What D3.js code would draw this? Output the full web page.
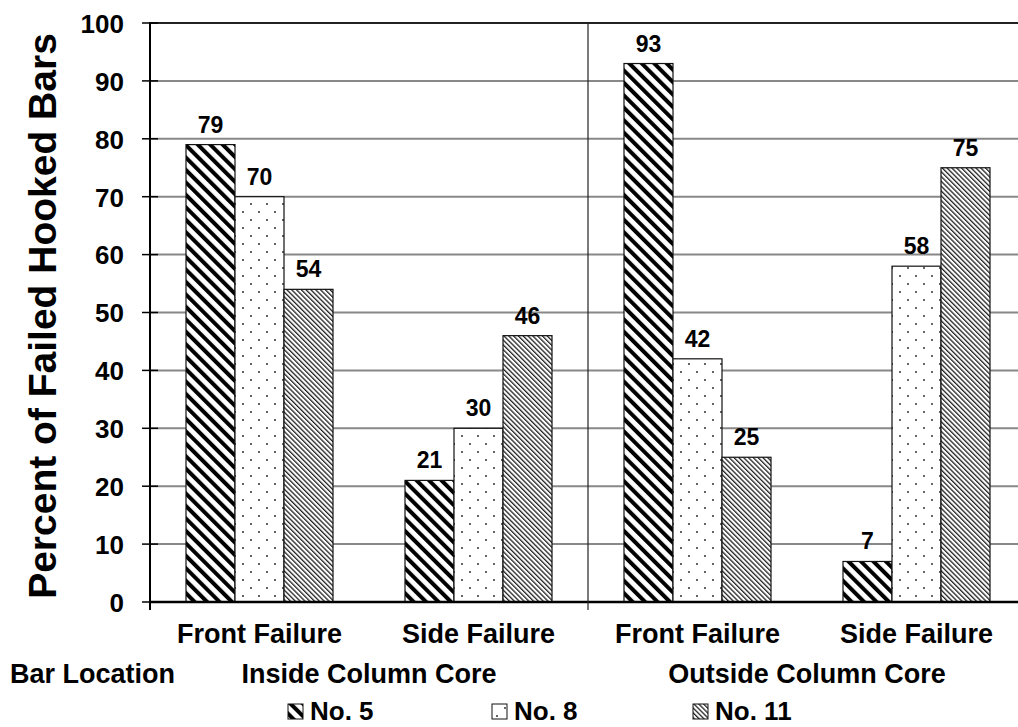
<!DOCTYPE html>
<html><head><meta charset="utf-8">
<script src="https://cdn.jsdelivr.net/npm/d3@7"></script>
<style>
html,body{margin:0;padding:0;background:#fff;}
svg{display:block;font-family:Arial,"Liberation Sans",sans-serif;font-weight:bold;}
</style></head>
<body><svg id="c" width="1018" height="727"></svg>
<script>
const categories = ["Front Failure", "Side Failure", "Front Failure ", "Side Failure "];
const groups = ["Inside Column Core", "Outside Column Core"];
const seriesNames = ["No. 5", "No. 8", "No. 11"];
const no5 = [79, 21, 93, 7];
const no8 = [70, 30, 42, 58];
const no11 = [54, 46, 25, 75];
const yTicks = [0, 10, 20, 30, 40, 50, 60, 70, 80, 90, 100];
const axisTitle = "Percent of Failed Hooked Bars";
const xTitle = "Bar Location";

const series = [no5, no8, no11];
const svg = d3.select("#c");
const L = 150, R = 1026, T = 23, B = 602;

const defs = svg.append("defs");
const p5 = defs.append("pattern").attr("id","p5").attr("patternUnits","userSpaceOnUse")
  .attr("width",8.8).attr("height",8.8).attr("patternTransform","rotate(-45)");
p5.append("rect").attr("width",8.8).attr("height",8.8).attr("fill","#fff");
p5.append("rect").attr("width",4).attr("height",8.8).attr("fill","#000");
const p8 = defs.append("pattern").attr("id","p8").attr("patternUnits","userSpaceOnUse")
  .attr("width",16).attr("height",16).attr("x",L+36);
p8.append("rect").attr("width",16).attr("height",16).attr("fill","#fff");
p8.append("circle").attr("cx",3).attr("cy",4).attr("r",1).attr("fill","#333");
p8.append("circle").attr("cx",11).attr("cy",12).attr("r",1).attr("fill","#333");
const p11 = defs.append("pattern").attr("id","p11").attr("patternUnits","userSpaceOnUse")
  .attr("width",3.4).attr("height",3.4).attr("patternTransform","rotate(-45)");
p11.append("rect").attr("width",3.4).attr("height",3.4).attr("fill","#fff");
p11.append("rect").attr("width",1.3).attr("height",3.4).attr("fill","#222");
const fills = ["url(#p5)","url(#p8)","url(#p11)"];

const y = d3.scaleLinear().domain([0,100]).range([B,T]);
const x0 = d3.scaleBand().domain(categories).range([L,R]).padding(0);
const x1 = d3.scaleBand().domain(seriesNames).range([36,183]).padding(0);

// gridlines
svg.append("g").selectAll("line").data(yTicks.filter(d=>d>0 && d<100)).join("line")
  .attr("x1",L).attr("x2",1018).attr("y1",d=>y(d)).attr("y2",d=>y(d))
  .attr("stroke","#888").attr("stroke-width",2);
svg.append("line").attr("x1",L).attr("x2",1018).attr("y1",y(100)).attr("y2",y(100))
  .attr("stroke","#222").attr("stroke-width",2);

// bars
const cg = svg.append("g").selectAll("g").data(categories).join("g")
  .attr("transform",d=>`translate(${x0(d)},0)`);
cg.each(function(c,ci){
  const g = d3.select(this);
  seriesNames.forEach((s,si)=>{
    const v = series[si][ci];
    g.append("rect").attr("x",x1(s)).attr("width",x1.bandwidth())
      .attr("y",y(v)).attr("height",B-y(v))
      .attr("fill",fills[si]).attr("stroke","#111").attr("stroke-width",1.2);
    g.append("text").attr("x",x1(s)+x1.bandwidth()/2).attr("y",y(v)-12)
      .attr("text-anchor","middle").attr("font-size",23).text(v);
  });
});

// axes
const yAxis = d3.axisLeft(y).tickValues(yTicks).tickSize(0).tickPadding(0);
const ya = svg.append("g").attr("transform",`translate(${L},0)`).call(yAxis);
ya.select(".domain").remove();
ya.selectAll("text").attr("x",-26).attr("dy","0.36em").attr("font-size",26)
  .attr("font-family","Arial,'Liberation Sans',sans-serif").attr("font-weight","bold").attr("fill","#000");
svg.append("g").selectAll("line").data(yTicks).join("line")
  .attr("x1",L-8).attr("x2",L+8).attr("y1",d=>y(d)).attr("y2",d=>y(d))
  .attr("stroke","#000").attr("stroke-width",1.5);
svg.append("line").attr("x1",L).attr("x2",L).attr("y1",T-1).attr("y2",B+8).attr("stroke","#000").attr("stroke-width",2);
svg.append("line").attr("x1",L).attr("x2",1018).attr("y1",B).attr("y2",B).attr("stroke","#000").attr("stroke-width",2.5);
// group separator
const sepX = x0(categories[2]);
svg.append("line").attr("x1",sepX).attr("x2",sepX).attr("y1",T).attr("y2",B+8).attr("stroke","#222").attr("stroke-width",1.2);

// category labels
svg.append("g").selectAll("text").data(categories).join("text")
  .attr("x",d=>x0(d)+x0.bandwidth()/2).attr("y",643).attr("text-anchor","middle")
  .attr("font-size",27).text(d=>d.trim());
// group labels
svg.append("g").selectAll("text").data(groups).join("text")
  .attr("x",(d,i)=>x0(categories[i*2]) + x0.bandwidth()).attr("y",683).attr("text-anchor","middle")
  .attr("font-size",27).text(d=>d);
svg.append("text").attr("x",10).attr("y",683).attr("font-size",27).text(xTitle);

// y title
svg.append("text").attr("transform","translate(56,316) rotate(-90)").attr("text-anchor","middle")
  .attr("font-size",39).text(axisTitle);

// legend
const legX = [288, 492, 693];
const lg = svg.append("g").selectAll("g").data(seriesNames).join("g")
  .attr("transform",(d,i)=>`translate(${legX[i]},704)`);
lg.append("rect").attr("width",15).attr("height",15).attr("fill",(d,i)=>fills[i])
  .attr("stroke","#111").attr("stroke-width",1);
lg.append("text").attr("x",22).attr("y",16).attr("font-size",26).text(d=>d);
</script></body></html>
